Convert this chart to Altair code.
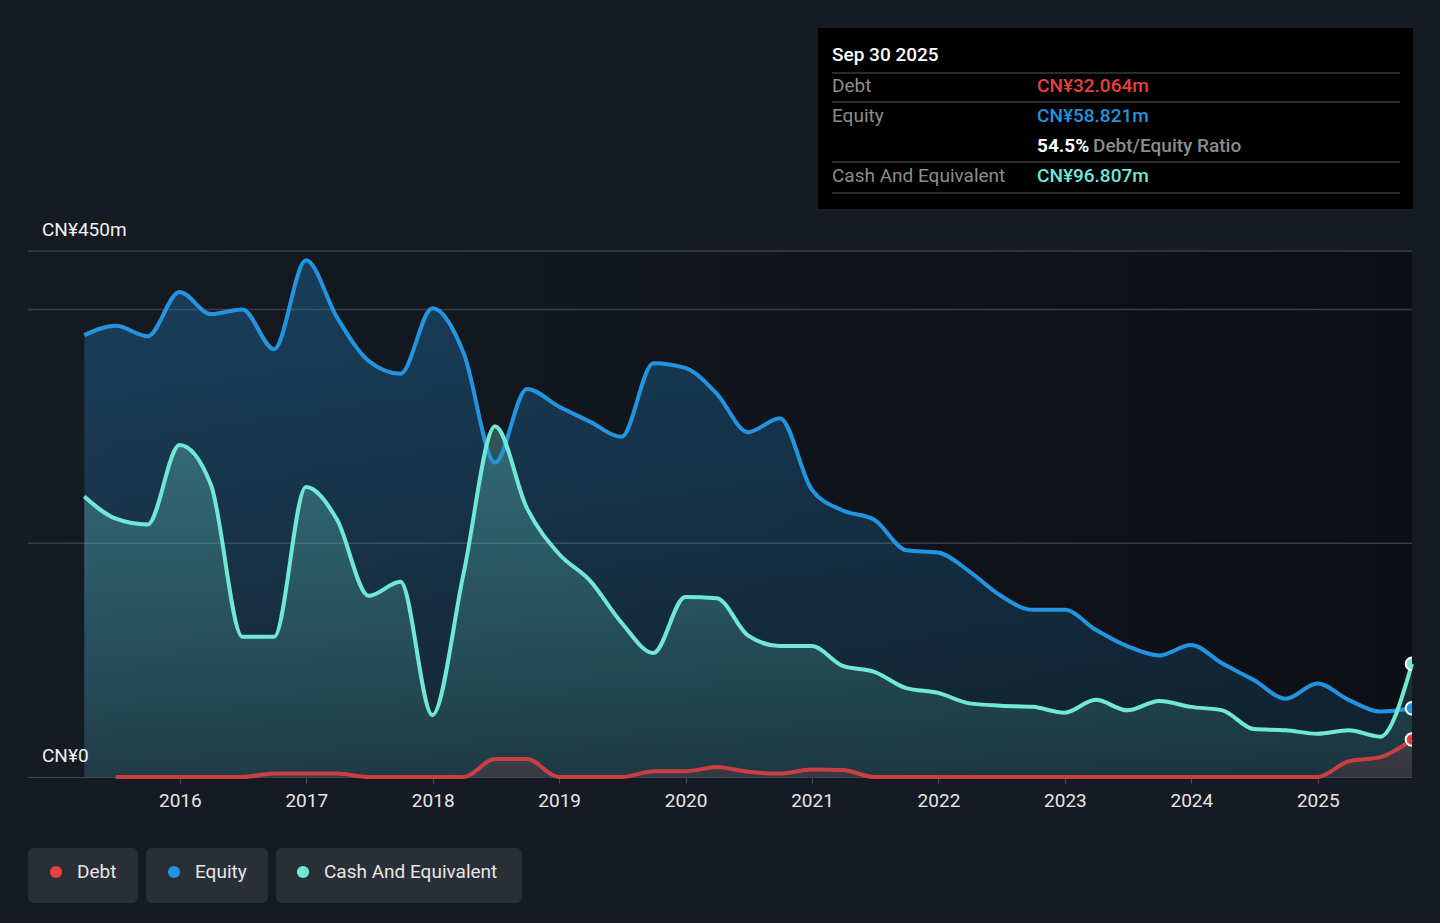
import altair as alt
import pandas as pd
import jinja2

FONT = "Roboto"

# ---------------- data ----------------
years = list(range(2015, 2026))
quarter_ends = ["03-31", "06-30", "09-30", "12-31"]
dates = [f"{y}-{q}" for y in years for q in quarter_ends][:43]  # 2015-03-31 .. 2025-09-30

equity = [378, 386, 377, 415,
          396, 400, 366, 442,
          393, 356, 345, 401,
          363, 269, 332, 317,
          304, 291, 354, 350,
          328, 295, 307, 246,
          228, 220, 194, 192,
          176, 155, 143, 143,
          126, 112, 104, 113,
          97, 83, 67, 80,
          66, 56, 58.821]

cash = [240, 221, 216, 284,
        250, 120, 120, 248,
        220, 155, 167, 53,
        174, 300, 230, 191,
        168, 132, 106, 154,
        153, 121, 112, 112,
        95, 90, 76, 72,
        63, 61, 60, 55,
        66, 57, 65, 60,
        57, 41, 40, 37,
        40, 34.5, 96.807]

# debt is reported from 2015-06-30 onwards
debt_dates = dates[1:]
debt = [0, 0, 0,
        0, 0, 3, 3,
        3, 0, 0, 0,
        0, 15.5, 15.5, 0,
        0, 0, 5, 5,
        8.5, 4.5, 3, 6.5,
        6, 0, 0, 0,
        0, 0, 0, 0,
        0, 0, 0, 0,
        0, 0, 0, 0,
        13.5, 17, 32.064]

series_names = ["Debt", "Equity", "Cash And Equivalent"]
year_ticks = list(range(2016, 2026))
y_label_values = [0, 450]
y_label_texts = ["CN¥0", "CN¥450m"]
grid_values = [200, 400, 450]
tooltip_date = "Sep 30 2025"

# ---------------- styling ----------------
C_DEBT = "#e64141"
C_EQ = "#2394df"
C_CASH = "#71e7d6"
BG = "#161b23"
GRID = "#3a3f47"
GREY_TXT = "#8c8c8c"
FS = 19

W, H = 1384, 526


def dec_year(d):
    ts = pd.Timestamp(d)
    start = pd.Timestamp(year=ts.year, month=1, day=1)
    end = pd.Timestamp(year=ts.year + 1, month=1, day=1)
    return ts.year + (ts - start) / (end - start)


x_start = 2014.799
x_end = dec_year(dates[-1])

df_eq = pd.DataFrame({"t": [dec_year(d) for d in dates], "v": equity})
df_cash = pd.DataFrame({"t": [dec_year(d) for d in dates], "v": cash})
df_debt = pd.DataFrame({"t": [dec_year(d) for d in debt_dates], "v": debt})

xscale = alt.Scale(domain=[x_start, x_end], nice=False, zero=False)
yscale = alt.Scale(domain=[0, 450], nice=False, zero=True)

xaxis = alt.Axis(values=year_ticks, format="d", title=None, grid=False,
                 labelFont=FONT, labelFontSize=FS, labelColor="#e6e6e6",
                 labelPadding=8, tickSize=6, tickColor="#4a4f57",
                 domainColor="#41464e", labelFlush=False, labelOverlap=False)


def X():
    return alt.X("t:Q", scale=xscale, axis=xaxis)


def Y():
    return alt.Y("v:Q", scale=yscale, axis=None)


def hex_rgba(h, a):
    h = h.lstrip("#")
    r, g, b = int(h[0:2], 16), int(h[2:4], 16), int(h[4:6], 16)
    return f"rgba({r},{g},{b},{a})"


def grad(color, o1, o2):
    return {"gradient": "linear", "x1": 0, "x2": 0, "y1": 0, "y2": 1,
            "stops": [{"offset": 0, "color": hex_rgba(color, o1)},
                      {"offset": 1, "color": hex_rgba(color, o2)}]}


ONE = alt.Data(values=[{"a": 1}])

# background gradient over plot area
bg = alt.Chart(ONE).mark_rect(
    fill={"gradient": "linear", "x1": 0, "x2": 1, "y1": 0, "y2": 0,
          "stops": [{"offset": 0, "color": "#161b23"},
                    {"offset": 1, "color": "#0c0f14"}]}
).encode(x=alt.value(0), x2=alt.value(W), y=alt.value(0), y2=alt.value(H))

grid = alt.Chart(pd.DataFrame({"v": grid_values})).mark_rule(
    color=GRID, strokeWidth=1.5).encode(y=Y())

area_eq = alt.Chart(df_eq).mark_area(interpolate="monotone", fill=grad(C_EQ, 0.30, 0.12)).encode(x=X(), y=Y())
area_cash = alt.Chart(df_cash).mark_area(interpolate="monotone", fill=grad(C_CASH, 0.30, 0.10)).encode(x=X(), y=Y())
area_debt = alt.Chart(df_debt).mark_area(interpolate="monotone", fill=grad(C_DEBT, 0.18, 0.12)).encode(x=X(), y=Y())

line_eq = alt.Chart(df_eq).mark_line(interpolate="monotone", color=C_EQ, strokeWidth=4).encode(x=X(), y=Y())
line_cash = alt.Chart(df_cash).mark_line(interpolate="monotone", color=C_CASH, strokeWidth=4).encode(x=X(), y=Y())
line_debt = alt.Chart(df_debt).mark_line(interpolate="monotone", color=C_DEBT, strokeWidth=4,
                                         strokeOpacity=0.85).encode(x=X(), y=Y())

df_last = pd.DataFrame({
    "t": [dec_year(dates[-1])] * 3,
    "v": [equity[-1], cash[-1], debt[-1]],
    "c": [C_EQ, C_CASH, C_DEBT],
})
last_pts = alt.Chart(df_last).mark_circle(size=160, opacity=1, stroke="white", strokeWidth=2,
                                          clip=True).encode(
    x=X(), y=Y(), fill=alt.Fill("c:N", scale=None))

ylabels = alt.Chart(pd.DataFrame({"v": y_label_values, "s": y_label_texts})).mark_text(
    align="left", baseline="middle", font=FONT, fontSize=FS, color="#f0f0f0", dy=-21
).encode(x=alt.value(14), y=Y(), text="s:N")


def txt(s, x, y, color, size=FS, weight="normal"):
    return alt.Chart(ONE).mark_text(text=s, align="left", baseline="middle", font=FONT,
                                    fontSize=size, fontWeight=weight, color=color).encode(
        x=alt.value(x), y=alt.value(y))


def box(x1, x2, y1, y2, color, r=0):
    return alt.Chart(ONE).mark_rect(color=color, cornerRadius=r).encode(
        x=alt.value(x1), x2=alt.value(x2), y=alt.value(y1), y2=alt.value(y2))


def hline(x1, x2, y, color):
    return alt.Chart(ONE).mark_rule(color=color, strokeWidth=1.5).encode(
        x=alt.value(x1), x2=alt.value(x2), y=alt.value(y))


def dot(x, y, color):
    return alt.Chart(ONE).mark_circle(size=150, opacity=1, color=color).encode(
        x=alt.value(x), y=alt.value(y))


ratio = debt[-1] / equity[-1] * 100
tip = [
    box(790, 1385, -223, -42, "#000000"),
    txt(tooltip_date, 804, -196, "#ffffff", FS, 500),
    hline(804, 1372, -178, "#3a3a3a"),
    txt(series_names[0], 804, -165, GREY_TXT),
    txt(f"CN¥{debt[-1]:.3f}m", 1009, -165, C_DEBT, FS, 500),
    hline(804, 1372, -149, "#3a3a3a"),
    txt(series_names[1], 804, -135, GREY_TXT),
    txt(f"CN¥{equity[-1]:.3f}m", 1009, -135, C_EQ, FS, 500),
    txt(f"{ratio:.1f}%", 1009, -105, "#ffffff", FS, "bold"),
    txt("Debt/Equity Ratio", 1065, -105, GREY_TXT, FS, 500),
    hline(804, 1372, -89, "#3a3a3a"),
    txt(series_names[2], 804, -75, GREY_TXT),
    txt(f"CN¥{cash[-1]:.3f}m", 1009, -75, C_CASH, FS, 500),
    hline(804, 1372, -58, "#3a3a3a"),
]

PILL = "#2a2f37"
legend = [
    box(0, 110, 597, 652, PILL, 6), dot(28, 621, C_DEBT), txt(series_names[0], 49, 621, "#e6e6e6"),
    box(118, 240, 597, 652, PILL, 6), dot(146, 621, C_EQ), txt(series_names[1], 167, 621, "#e6e6e6"),
    box(248, 494, 597, 652, PILL, 6), dot(275, 621, C_CASH), txt(series_names[2], 296, 621, "#e6e6e6"),
]

chart = alt.layer(
    bg, grid, area_eq, area_cash, area_debt, line_eq, line_cash, line_debt, last_pts, ylabels,
    *tip, *legend
).properties(
    width=W, height=H,
    autosize=alt.AutoSizeParams(type="none"),
    padding={"left": 20, "top": 243, "right": 20, "bottom": 138},
    background=BG,
).configure_view(stroke=None)

# same page as Altair's standard template, with the page background matching the chart
PAGE = jinja2.Template("""<!DOCTYPE html>
<html>
<head>
  <style>
    html, body { background-color: #161b23; }
    .error { color: red; }
  </style>
  <script type="text/javascript" src="{{ base_url }}/vega@{{ vega_version }}"></script>
  <script type="text/javascript" src="{{ base_url }}/vega-lite@{{ vegalite_version }}"></script>
  <script type="text/javascript" src="{{ base_url }}/vega-embed@{{ vegaembed_version }}"></script>
</head>
<body>
  <div id="{{ output_div }}"></div>
  <script>
    (function(vegaEmbed) {
      var spec = {{ spec }};
      var embedOpt = {{ embed_options }};
      function showError(el, error){
          el.innerHTML = ('<div class="error">' + '<p>JavaScript Error: ' + error.message + '</p>' + '</div>');
          throw error;
      }
      const el = document.getElementById('{{ output_div }}');
      vegaEmbed("#{{ output_div }}", spec, embedOpt).catch(error => showError(el, error));
    })(vegaEmbed);
  </script>
</body>
</html>
""")

chart.save("out.html", embed_options={"renderer": "svg", "actions": False}, template=PAGE)
